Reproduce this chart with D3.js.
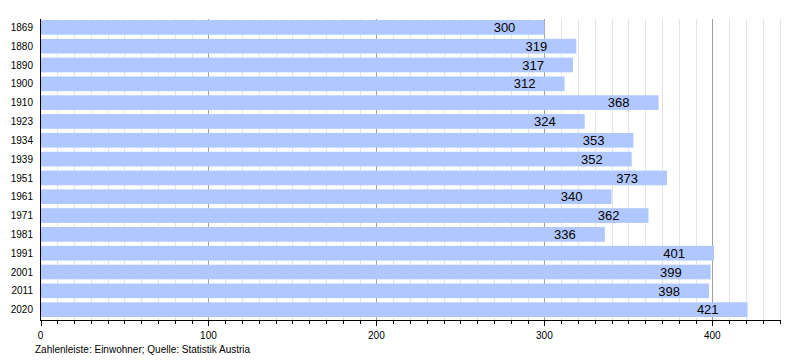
<!DOCTYPE html>
<html><head><meta charset="utf-8">
<script src="https://cdn.jsdelivr.net/npm/d3@7"></script>
<style>body{margin:0;background:#fff}svg{display:block}text{font-family:"Liberation Sans",Arial,sans-serif}</style>
</head><body><svg id="c" width="800" height="360"></svg>
<script>
const years = ["1869","1880","1890","1900","1910","1923","1934","1939","1951","1961","1971","1981","1991","2001","2011","2020"];
const population = [300,319,317,312,368,324,353,352,373,340,362,336,401,399,398,421];
const majorTicks = [0,100,200,300,400];
const footer = "Zahlenleiste: Einwohner; Quelle: Statistik Austria";

const svg = d3.select("#c");
const x = d3.scaleLinear().domain([0,440]).range([40.5,779.5]);
const y = d3.scaleBand().domain(years).range([18.5,318.5]).paddingInner(0.22).paddingOuter(0.08);

const minor = d3.range(10,441,10).filter(v=>v%100!==0);
// grid
svg.append("g").selectAll("line").data(minor).join("line")
  .attr("x1",d=>Math.round(x(d))+0.5).attr("x2",d=>Math.round(x(d))+0.5)
  .attr("y1",19).attr("y2",320).attr("stroke","#e4e4e4").attr("stroke-width",1);
svg.append("g").selectAll("line").data(majorTicks.filter(d=>d>0)).join("line")
  .attr("x1",d=>Math.round(x(d))+0.5).attr("x2",d=>Math.round(x(d))+0.5)
  .attr("y1",19).attr("y2",320).attr("stroke","#a0a0a0").attr("stroke-width",1);

// bars
svg.append("g").selectAll("rect").data(years).join("rect")
  .attr("x",x(0)+0.5).attr("y",d=>y(d))
  .attr("width",(d,i)=>x(population[i])-x(0)-0.5).attr("height",y.bandwidth())
  .attr("fill","#b0c8ff");

// value labels
svg.append("g").selectAll("text").data(years).join("text")
  .attr("x",(d,i)=>x(population[i])-29).attr("y",d=>y(d)+y.bandwidth()/2)
  .attr("dy","0.36em").attr("text-anchor","end").attr("font-size",13).attr("fill","#000")
  .text((d,i)=>population[i]);

// year labels
svg.append("g").selectAll("text").data(years).join("text")
  .attr("x",33).attr("y",d=>y(d)+y.bandwidth()/2).attr("dy","0.36em")
  .attr("text-anchor","end").attr("font-size",10).attr("fill","#000").text(d=>d);

// left axis line
svg.append("line").attr("x1",40.5).attr("x2",40.5).attr("y1",19).attr("y2",320).attr("stroke","#000");
// bottom axis
svg.append("line").attr("x1",40).attr("x2",780).attr("y1",320.5).attr("y2",320.5).attr("stroke","#000");
svg.append("g").selectAll("line").data(minor).join("line")
  .attr("x1",d=>Math.round(x(d))+0.5).attr("x2",d=>Math.round(x(d))+0.5)
  .attr("y1",320).attr("y2",324).attr("stroke","#000");
svg.append("g").selectAll("line").data(majorTicks).join("line")
  .attr("x1",d=>Math.round(x(d))+0.5).attr("x2",d=>Math.round(x(d))+0.5)
  .attr("y1",320).attr("y2",326).attr("stroke","#000");
svg.append("g").selectAll("text").data(majorTicks).join("text")
  .attr("x",d=>x(d)).attr("y",339).attr("text-anchor","middle").attr("font-size",10).text(d=>d);

svg.append("text").attr("x",35).attr("y",353).attr("font-size",10).text(footer);
</script></body></html>
